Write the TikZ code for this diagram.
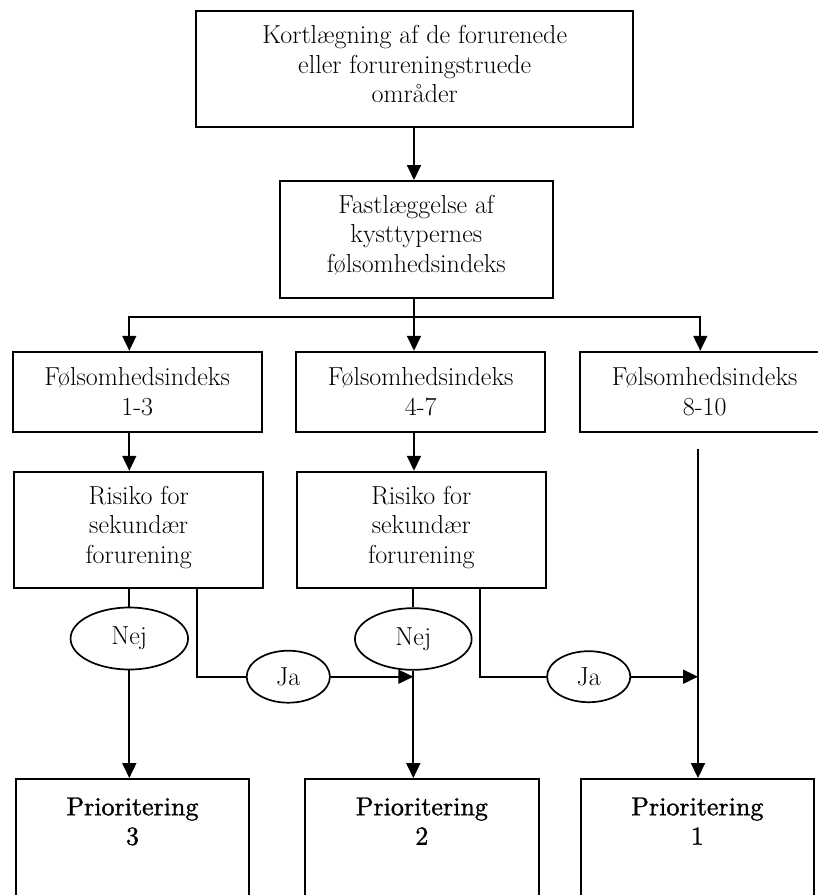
\documentclass[tikz,border=0pt]{standalone}
\usepackage{fontspec}
\newfontfamily\prfont{lmroman10-regular.otf}[FakeBold=1.3]
\usetikzlibrary{arrows.meta,shapes.geometric}
\newcommand\dtext{\fontsize{26}{29.5}\selectfont}
\tikzset{
  x=1pt, y=-1pt,
  box/.style={draw, rectangle, line width=1.9pt, inner sep=0pt, align=center, font=\dtext},
  ov/.style={draw, ellipse, line width=1.7pt, inner sep=0pt, font=\dtext},
  prtext/.style={inner sep=0pt, align=center, anchor=north, font=\prfont\dtext},
  conn/.style={line width=1.8pt},
  arr/.style={conn, -{Triangle[length=15pt,width=14pt]}},
}
\begin{document}
\begin{tikzpicture}
\useasboundingbox (0,0) rectangle (818,895);
\clip (0,0) rectangle (818,895);
% boxes
\node[box, minimum width=437pt, minimum height=116.6pt, text depth=10pt] (top) at (414.7,69)
  {Kortlægning af de forurenede\\eller forureningstruede\\områder};
\node[box, minimum width=272.7pt, minimum height=116.7pt, text depth=11pt] (box2) at (416.3,239.3)
  {Fastlæggelse af\\kysttypernes\\følsomhedsindeks};
\node[box, minimum width=249pt, minimum height=80pt] (fA) at (137.2,391.7) {Følsomhedsindeks\\1-3};
\node[box, minimum width=249.3pt, minimum height=80pt] (fB) at (420.7,391.7) {Følsomhedsindeks\\4-7};
\node[box, minimum width=248.7pt, minimum height=80pt] (fC) at (704.7,391.7) {Følsomhedsindeks\\8-10};
\node[box, minimum width=249.3pt, minimum height=116.6pt, text depth=11pt] (rA) at (138.7,530) {Risiko for\\sekundær\\forurening};
\node[box, minimum width=249.3pt, minimum height=116.6pt, text depth=11pt] (rB) at (421.3,530) {Risiko for\\sekundær\\forurening};
% ellipses
\node[ov, minimum width=117.5pt, minimum height=62pt] (nejA) at (129.3,638.5) {Nej};
\node[ov, minimum width=116.7pt, minimum height=61.7pt] (nejB) at (413.3,639) {Nej};
\node[ov, minimum width=83.3pt, minimum height=52pt] (jaA) at (288.3,676.7) {Ja};
\node[ov, minimum width=83.3pt, minimum height=51pt] (jaB) at (588.7,676.7) {Ja};
% priority boxes (cut off at the bottom)
\node[box, minimum width=233.6pt, minimum height=140pt] (pA) at (132.5,849) {};
\node[box, minimum width=233.7pt, minimum height=140pt] (pB) at (421.85,849) {};
\node[box, minimum width=233.3pt, minimum height=140pt] (pC) at (697.35,849) {};
\node[prtext] (pAt) at (132.5,797.3) {Prioritering\\3};
\node[prtext] (pBt) at (421.85,797.3) {Prioritering\\2};
\node[prtext] (pCt) at (697.35,797.3) {Prioritering\\1};
% helper coordinates
\coordinate (J) at (414,317.3);
\coordinate (xA) at (129.3,0);
\coordinate (xC) at (700.3,0);
\coordinate (kA) at (196.7,0);
\coordinate (kB) at (480,0);
\coordinate (c1) at (698,449.3);
% connectors
\draw[arr] (top.south -| J) -- (box2.north -| J);
\draw[conn] (box2.south -| J) -- (J);
\draw[arr] (J) -| (fA.north -| xA);
\draw[arr] (J) -- (J |- fB.north);
\draw[arr] (J) -| (fC.north -| xC);
\draw[arr] (fA.south -| xA) -- (rA.north -| xA);
\draw[arr] (fB.south -| J) -- (rB.north -| J);
\draw[conn] (rA.south -| nejA) -- (nejA.north);
\draw[arr] (nejA.south) -- (nejA.south |- pA.north);
\draw[conn] (rB.south -| nejB) -- (nejB.north);
\draw[arr] (nejB.south) -- (nejB.south |- pB.north);
\draw[conn] (rA.south -| kA) |- (jaA.west);
\draw[arr] (jaA.east) -- (jaA.east -| nejB.south);
\draw[conn] (rB.south -| kB) |- (jaB.west);
\draw[arr] (jaB.east) -- (jaB.east -| c1);
\draw[arr] (c1) -- (c1 |- pC.north);
\end{tikzpicture}
\end{document}
